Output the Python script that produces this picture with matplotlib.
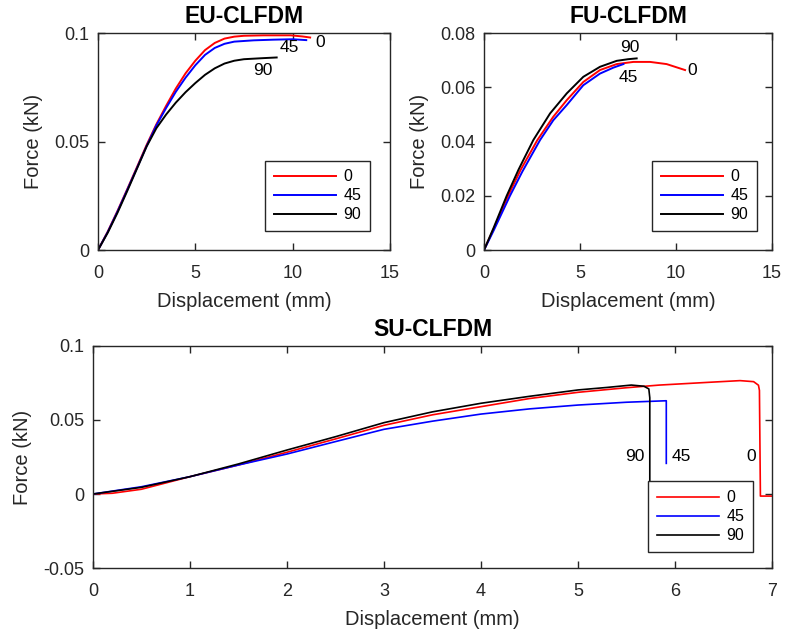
import matplotlib.pyplot as plt

plt.rcParams['font.family'] = ['Liberation Sans', 'DejaVu Sans']

# ---- EU-CLFDM ----
eu_x0 = [0, 0.5, 1.0, 1.5, 2.0, 2.5, 3.0, 3.5, 4.0, 4.5, 5.0, 5.5, 6.0, 6.5, 7.0, 7.5, 8.5, 9.9, 10.5, 10.9]
eu_y0 = [0, 0.0085, 0.018, 0.028, 0.0382, 0.0485, 0.058, 0.0665, 0.0745, 0.0815, 0.0873, 0.0922, 0.0955, 0.0975, 0.0984, 0.0988, 0.099, 0.099, 0.0985, 0.098]
eu_x45 = [0, 0.5, 1.0, 1.5, 2.0, 2.5, 3.0, 3.5, 4.0, 4.5, 5.0, 5.5, 6.0, 6.5, 7.0, 8.0, 9.0, 10.0, 10.7]
eu_y45 = [0, 0.0083, 0.0177, 0.0277, 0.0378, 0.048, 0.0575, 0.0655, 0.073, 0.0795, 0.0852, 0.09, 0.0932, 0.0951, 0.0961, 0.0967, 0.097, 0.0972, 0.0968]
eu_x90 = [0, 0.5, 1.0, 1.5, 2.0, 2.5, 3.0, 3.5, 4.0, 4.5, 5.0, 5.5, 6.0, 6.5, 7.0, 7.5, 8.5, 9.18]
eu_y90 = [0, 0.008, 0.0172, 0.0272, 0.0375, 0.0478, 0.0562, 0.0625, 0.068, 0.0728, 0.077, 0.0808, 0.0838, 0.086, 0.0873, 0.088, 0.0885, 0.0888]

# ---- FU-CLFDM ----
fu_x0 = [0, 0.5, 1.25, 1.9, 2.78, 3.61, 4.31, 5.17, 6.04, 6.91, 7.78, 8.65, 9.51, 10.47]
fu_y0 = [0, 0.0078, 0.02, 0.0295, 0.0406, 0.0492, 0.0553, 0.062, 0.0664, 0.0686, 0.0694, 0.0694, 0.0686, 0.0664]
fu_x45 = [0, 0.5, 1.35, 2.0, 2.92, 3.61, 4.31, 5.17, 6.04, 6.74, 7.26]
fu_y45 = [0, 0.0072, 0.02, 0.029, 0.0406, 0.0479, 0.0535, 0.0608, 0.0651, 0.0673, 0.0686]
fu_x90 = [0, 0.5, 1.18, 1.8, 2.57, 3.44, 4.31, 5.17, 6.04, 6.91, 7.5, 7.95]
fu_y90 = [0, 0.0082, 0.02, 0.0297, 0.0406, 0.0504, 0.0578, 0.0639, 0.0676, 0.0698, 0.0704, 0.0707]

# ---- SU-CLFDM ----
su_x0 = [0, 0.2, 0.5, 1.0, 1.5, 2.0, 2.5, 3.0, 3.5, 4.0, 4.5, 5.0, 5.5, 5.84, 6.36, 6.67, 6.81, 6.86, 6.87, 6.88, 7.01]
su_y0 = [0, 0.0005, 0.0032, 0.0117, 0.0196, 0.0282, 0.0372, 0.0464, 0.0535, 0.059, 0.0645, 0.0687, 0.0718, 0.0736, 0.0755, 0.0766, 0.0759, 0.0735, 0.07, -0.0014, -0.0014]
su_x45 = [0, 0.5, 1.0, 1.5, 2.0, 2.5, 3.0, 3.5, 4.0, 4.5, 5.0, 5.5, 5.91, 5.91]
su_y45 = [0, 0.0049, 0.0117, 0.0196, 0.027, 0.0354, 0.0437, 0.0492, 0.054, 0.0575, 0.0601, 0.062, 0.063, 0.0207]
su_x90 = [0, 0.5, 1.0, 1.5, 2.0, 2.5, 3.0, 3.5, 4.0, 4.5, 5.0, 5.3, 5.55, 5.68, 5.73, 5.74, 5.74]
su_y90 = [0, 0.0045, 0.0117, 0.0203, 0.0297, 0.0387, 0.0482, 0.0555, 0.0613, 0.066, 0.0703, 0.072, 0.0736, 0.0728, 0.071, 0.065, 0.0]

labels = ['0', '45', '90']
colors = ['#ff0000', '#0000ff', '#000000']
axcol = '#262626'


def style(ax, xlim, ylim, xt, yt, ytl):
    ax.set_xlim(xlim)
    ax.set_ylim(ylim)
    ax.set_xticks(xt)
    ax.set_yticks(yt)
    ax.set_yticklabels(ytl)
    ax.tick_params(direction='in', top=True, right=True, length=5, width=1,
                   labelsize=13, colors=axcol, labelcolor='#262626')
    ax.tick_params(axis='x', pad=11)
    ax.tick_params(axis='y', pad=6)
    for s in ax.spines.values():
        s.set_color(axcol)
        s.set_linewidth(1)
    ax.set_xlabel('Displacement (mm)', fontsize=14.5, labelpad=7, color='#262626')
    ax.set_ylabel('Force (kN)', fontsize=14.5, labelpad=8, color='#262626')


def legend(ax, anchor):
    lg = ax.legend(labels, loc='lower right', bbox_to_anchor=anchor, fontsize=11.5,
                   fancybox=False, framealpha=1, edgecolor=axcol, handlelength=3.9,
                   labelspacing=0.25, borderpad=0.55, handletextpad=0.45, borderaxespad=0)
    lg.get_frame().set_linewidth(1)
    lg.set_zorder(10)


fig = plt.figure(figsize=(7.87, 6.38), dpi=100)

# EU
ax1 = fig.add_axes([0.1245, 0.608, 0.371, 0.340])
for xs, ys, c in zip([eu_x0, eu_x45, eu_x90], [eu_y0, eu_y45, eu_y90], colors):
    ax1.plot(xs, ys, color=c, lw=1.4)
style(ax1, (0, 15), (0, 0.1), [0, 5, 10, 15], [0, 0.05, 0.1], ['0', '0.05', '0.1'])
ax1.set_title('EU-CLFDM', fontsize=16.5, fontweight='bold', pad=7)
ax1.text(11.4, 0.0959, '0', fontsize=12.5, ha='center', va='center')
ax1.text(9.81, 0.0935, '45', fontsize=12.5, ha='center', va='center')
ax1.text(8.47, 0.083, '90', fontsize=12.5, ha='center', va='center')
legend(ax1, (0.932, 0.0876))

# FU
ax2 = fig.add_axes([0.615, 0.608, 0.366, 0.340])
for xs, ys, c in zip([fu_x0, fu_x45, fu_x90], [fu_y0, fu_y45, fu_y90], colors):
    ax2.plot(xs, ys, color=c, lw=1.4)
style(ax2, (0, 15), (0, 0.08), [0, 5, 10, 15], [0, 0.02, 0.04, 0.06, 0.08],
      ['0', '0.02', '0.04', '0.06', '0.08'])
ax2.set_title('FU-CLFDM', fontsize=16.5, fontweight='bold', pad=7)
ax2.text(10.83, 0.0664, '0', fontsize=12.5, ha='center', va='center')
ax2.text(7.5, 0.0638, '45', fontsize=12.5, ha='center', va='center')
ax2.text(7.6, 0.0748, '90', fontsize=12.5, ha='center', va='center')
legend(ax2, (0.948, 0.0876))

# SU
ax3 = fig.add_axes([0.118, 0.1097, 0.863, 0.348])
for xs, ys, c in zip([su_x0, su_x45, su_x90], [su_y0, su_y45, su_y90], colors):
    ax3.plot(xs, ys, color=c, lw=1.2)
style(ax3, (0, 7), (-0.05, 0.1), range(8), [-0.05, 0, 0.05, 0.1], ['-0.05', '0', '0.05', '0.1'])
ax3.set_title('SU-CLFDM', fontsize=16.5, fontweight='bold', pad=7)
ax3.text(6.79, 0.025, '0', fontsize=12.5, ha='center', va='center')
ax3.text(6.06, 0.025, '45', fontsize=12.5, ha='center', va='center')
ax3.text(5.59, 0.025, '90', fontsize=12.5, ha='center', va='center')
legend(ax3, (0.972, 0.072))

fig.savefig('out.png', dpi=100)
